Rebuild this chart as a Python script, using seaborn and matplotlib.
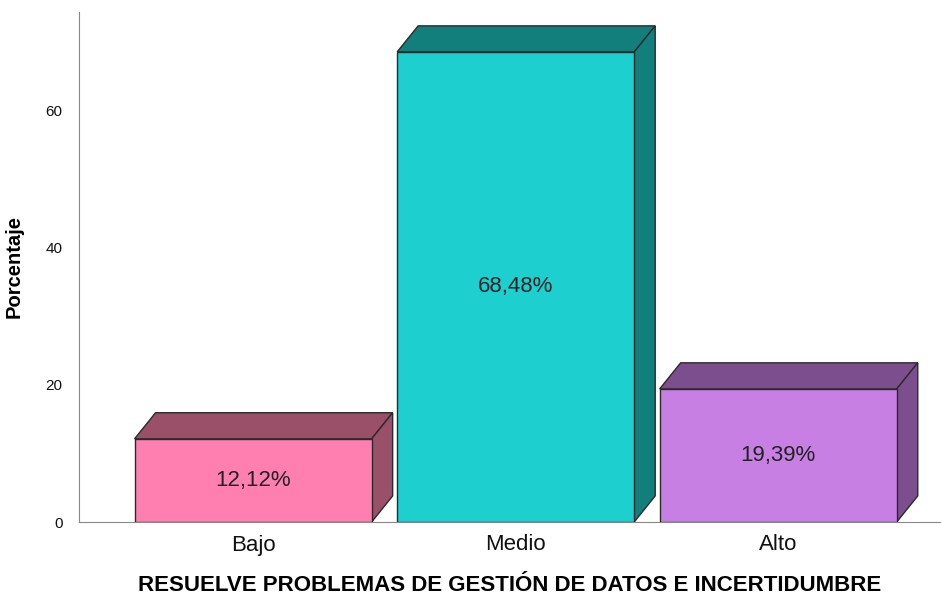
import matplotlib
matplotlib.use("Agg")
import matplotlib.pyplot as plt
from matplotlib.patches import Polygon
import seaborn as sns
import pandas as pd

# Data
categorias = ["Bajo", "Medio", "Alto"]
porcentajes = [12.12, 68.48, 19.39]
etiquetas = ["12,12%", "68,48%", "19,39%"]
color_frente = ["#FF80B0", "#1DCFCF", "#C87FE4"]
color_lado = ["#9A5068", "#127F7D", "#7C4E8E"]

df = pd.DataFrame({"cat": categorias, "pct": porcentajes})

sns.set_style("white")
plt.rcParams["font.family"] = ["Liberation Sans", "DejaVu Sans"]
plt.rcParams["text.color"] = "#111111"
plt.rcParams["axes.labelcolor"] = "#000000"
plt.rcParams["xtick.color"] = "#111111"
plt.rcParams["ytick.color"] = "#111111"

fig = plt.figure(figsize=(9.41, 6), dpi=100)
ax = fig.add_axes([0.084, 0.13, 0.916, 0.85])

sns.barplot(data=df, x="cat", y="pct", hue="cat", palette=color_frente,
            saturation=1, width=0.903, edgecolor="#2a2a2a", linewidth=1,
            legend=False, ax=ax, zorder=3)

# 3D depth offsets in data units
dx, dy = 0.08, 3.8
for i, p in enumerate(ax.patches):
    x0 = p.get_x()
    w = p.get_width()
    h = p.get_height()
    top = Polygon([(x0, h), (x0 + dx, h + dy), (x0 + w + dx, h + dy), (x0 + w, h)],
                  closed=True, facecolor=color_lado[i], edgecolor="#2a2a2a",
                  linewidth=1, zorder=2)
    side = Polygon([(x0 + w, 0), (x0 + w + dx, dy), (x0 + w + dx, h + dy), (x0 + w, h)],
                   closed=True, facecolor=color_lado[i], edgecolor="#2a2a2a",
                   linewidth=1, zorder=2)
    ax.add_patch(top)
    ax.add_patch(side)
    ax.text(x0 + w / 2, h / 2, etiquetas[i], ha="center", va="center",
            fontsize=16, color="#222222", zorder=4)

ax.set_xlim(-0.663, 2.62)
ax.set_ylim(0, 74.3)
ax.set_yticks([0, 20, 40, 60])
ax.tick_params(axis="y", labelsize=11, length=0, pad=12)
ax.tick_params(axis="x", labelsize=16, length=0, pad=9)
ax.set_ylabel("Porcentaje", fontsize=14.5, fontweight="bold", labelpad=16)
ax.set_xlabel("RESUELVE PROBLEMAS DE GESTIÓN DE DATOS E INCERTIDUMBRE",
              fontsize=16, fontweight="bold", labelpad=14)

sns.despine(ax=ax, top=True, right=True)
ax.spines["left"].set_color("#888888")
ax.spines["bottom"].set_color("#888888")

fig.savefig("out.png", dpi=100)
